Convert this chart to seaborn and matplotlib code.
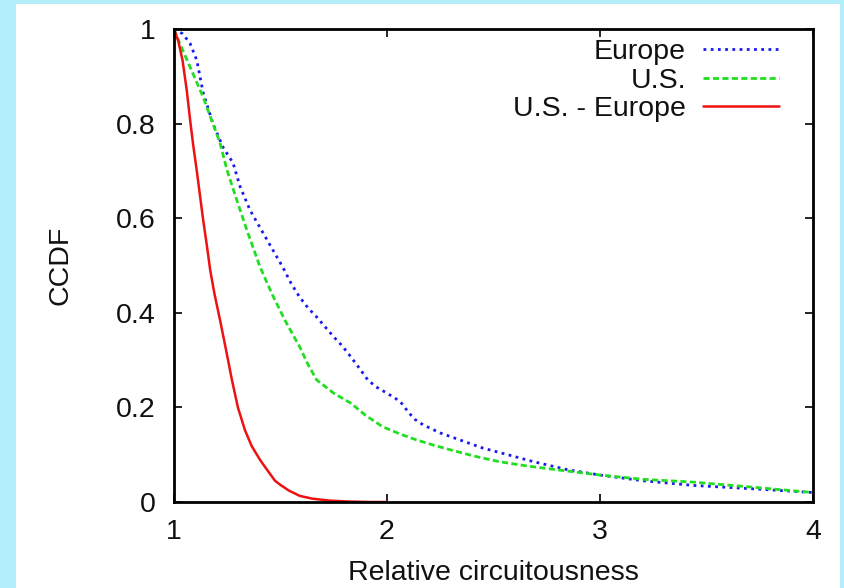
import matplotlib
matplotlib.use("Agg")
import matplotlib.pyplot as plt
import seaborn as sns
import pandas as pd
from matplotlib.patches import Rectangle

# ---- data ----
europe_x = [1.0, 1.04, 1.075, 1.107, 1.137, 1.183, 1.23, 1.277, 1.31, 1.357, 1.437, 1.51,
            1.55, 1.59, 1.63, 1.67, 1.71, 1.75, 1.79, 1.83, 1.87, 1.91, 1.95, 2.0, 2.04,
            2.07, 2.1, 2.13, 2.17, 2.25, 2.35, 2.45, 2.55,
            2.69, 2.85, 3.0, 3.2, 3.44, 3.75, 4.0]
europe_y = [1.0, 0.99, 0.97, 0.934, 0.865, 0.80, 0.75, 0.717, 0.667, 0.617, 0.554, 0.497,
            0.462, 0.433, 0.41, 0.391, 0.37, 0.349, 0.33, 0.307, 0.283, 0.258, 0.243, 0.23,
            0.219, 0.208, 0.19, 0.175, 0.163, 0.146, 0.13, 0.114,
            0.102, 0.085, 0.068, 0.057, 0.045, 0.035, 0.027, 0.02]

us_x = [1.0, 1.02, 1.075, 1.137, 1.216, 1.25, 1.295, 1.342, 1.404, 1.46, 1.52, 1.59,
        1.63, 1.67, 1.75, 1.83, 1.9, 1.98, 2.06, 2.14, 2.22, 2.30, 2.41, 2.53, 2.66, 2.8,
        3.0, 3.2, 3.44, 3.75, 4.0]
us_y = [1.0, 0.977, 0.92, 0.856, 0.759, 0.70, 0.638, 0.575, 0.497, 0.44, 0.385, 0.328,
        0.29, 0.258, 0.23, 0.209, 0.183, 0.159, 0.144, 0.131, 0.12, 0.110, 0.097, 0.085,
        0.076, 0.068, 0.057, 0.048, 0.042, 0.03, 0.02]

useu_x = [1.0, 1.02, 1.04, 1.06, 1.075, 1.09, 1.107, 1.122, 1.137, 1.155, 1.17, 1.19,
          1.216, 1.245, 1.272, 1.3, 1.333, 1.365, 1.404, 1.437, 1.474, 1.5, 1.54, 1.59,
          1.65, 1.73, 1.82, 1.92, 2.0]
useu_y = [1.0, 0.975, 0.934, 0.87, 0.81, 0.755, 0.70, 0.648, 0.596, 0.54, 0.49, 0.44,
          0.385, 0.32, 0.258, 0.2, 0.152, 0.118, 0.089, 0.068, 0.045, 0.036, 0.024, 0.013,
          0.007, 0.003, 0.001, 0.0, 0.0]

labels = ["Europe", "U.S.", "U.S. - Europe"]
x_ticks = [1, 2, 3, 4]
x_ticklabels = ["1", "2", "3", "4"]
y_ticks = [0, 0.2, 0.4, 0.6, 0.8, 1]
y_ticklabels = ["0", "0.2", "0.4", "0.6", "0.8", "1"]

sns.set_theme(style="white")
plt.rcParams["font.family"] = ["Liberation Sans", "DejaVu Sans"]

fig = plt.figure(figsize=(8.44, 5.88), dpi=100)
fig.patch.set_facecolor("#b2eefa")
plate = Rectangle((16 / 844, 0), (840 - 16) / 844, 1 - 4 / 588,
                  transform=fig.transFigure, facecolor="white",
                  edgecolor="none", zorder=-5)
fig.add_artist(plate)

ax = fig.add_axes([174 / 844, 1 - 502 / 588, (813 - 174) / 844, (502 - 29) / 588])
ax.set_zorder(5)
ax.set_facecolor("white")

df_e = pd.DataFrame({"x": europe_x, "y": europe_y})
df_u = pd.DataFrame({"x": us_x, "y": us_y})
df_r = pd.DataFrame({"x": useu_x, "y": useu_y})

sns.lineplot(data=df_e, x="x", y="y", ax=ax, color="#1a1aee", lw=2.0,
             linestyle=(0, (1, 1.6)), label=labels[0], sort=False, estimator=None)
sns.lineplot(data=df_u, x="x", y="y", ax=ax, color="#22dd22", lw=2.0,
             linestyle=(0, (2.2, 1.2)), label=labels[1], sort=False, estimator=None)
sns.lineplot(data=df_r, x="x", y="y", ax=ax, color="#ee1111", lw=1.8,
             linestyle="-", label=labels[2], sort=False, estimator=None)

ax.set_xlim(1, 4)
ax.set_ylim(0, 1)
ax.set_xticks(x_ticks)
ax.set_xticklabels(x_ticklabels)
ax.set_yticks(y_ticks)
ax.set_yticklabels(y_ticklabels)

fs = 20.5
ax.tick_params(axis="both", which="both", direction="in", length=6, width=1.2,
               color="black", labelsize=fs, labelcolor="#111111",
               top=True, right=True, bottom=True, left=True)
ax.tick_params(axis="x", pad=12)
ax.tick_params(axis="y", pad=13)
for s in ax.spines.values():
    s.set_visible(True)
    s.set_color("black")
    s.set_linewidth(2.0)

ax.set_xlabel("Relative circuitousness", fontsize=fs, color="#111111", labelpad=11)
ax.set_ylabel("CCDF", fontsize=fs, color="#111111", labelpad=31)

leg = ax.legend(loc="upper right", frameon=False, markerfirst=False, fontsize=fs,
                handlelength=2.67, handletextpad=0.6, labelspacing=0.08,
                borderaxespad=0.0, borderpad=0.0, bbox_to_anchor=(0.947, 0.978))
for t in leg.get_texts():
    t.set_color("#111111")

fig.savefig("out.png", dpi=100, facecolor=fig.get_facecolor())
